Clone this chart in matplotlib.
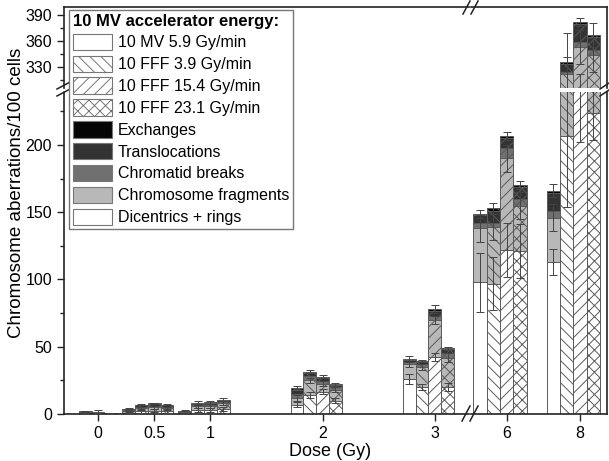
import numpy as np
import matplotlib
matplotlib.use('Agg')
import matplotlib.pyplot as plt
from matplotlib.patches import Patch
from matplotlib.lines import Line2D

plt.rcParams['font.family'] = ['Liberation Sans', 'DejaVu Sans']
plt.rcParams['hatch.linewidth'] = 0.7

doses = [0, 0.5, 1, 2, 3, 6, 8]
rates = ['10 MV 5.9 Gy/min', '10 FFF 3.9 Gy/min', '10 FFF 15.4 Gy/min', '10 FFF 23.1 Gy/min']
hatches = ['', '\\\\\\', '///', 'xxx']

types = ['Exchanges', 'Translocations', 'Chromatid breaks', 'Chromosome fragments', 'Dicentrics + rings']
type_colors = ['#050505', '#333333', '#707070', '#b8b8b8', '#ffffff']

# aberrations per 100 cells, one row per dose rate, columns follow doses
dicentrics = np.array([
    [0.05, 1.0, 0.5, 7.0, 26.0, 98.0, 113.0],
    [0.3, 2.0, 3.0, 14.0, 20.0, 97.0, 207.0],
    [0.3, 2.5, 3.0, 16.6, 42.6, 122.0, 262.0],
    [0.2, 2.0, 4.0, 10.0, 20.0, 121.0, 224.0],
])
fragments = np.array([
    [0.05, 1.5, 1.0, 5.0, 11.0, 40.0, 33.0],
    [0.5, 2.5, 3.0, 11.0, 15.0, 42.0, 115.0],
    [0.4, 2.5, 3.0, 6.0, 27.0, 68.0, 91.0],
    [0.2, 2.5, 4.0, 8.0, 22.0, 34.0, 120.0],
])
chromatid = np.array([
    [0.05, 0.5, 0.5, 3.0, 1.5, 4.0, 5.0],
    [0.5, 1.0, 1.0, 3.0, 2.0, 3.0, 2.0],
    [0.2, 1.0, 1.0, 2.0, 3.0, 8.0, 6.0],
    [0.1, 1.0, 1.0, 2.0, 3.0, 5.0, 6.0],
])
translocations = np.array([
    [0.05, 0.5, 0.3, 3.0, 1.5, 6.0, 13.0],
    [0.5, 1.0, 0.7, 2.5, 2.0, 9.0, 10.0],
    [0.2, 1.5, 1.2, 2.0, 4.0, 7.0, 21.0],
    [0.1, 1.0, 1.2, 1.5, 3.0, 9.0, 15.0],
])
exchanges = np.array([
    [0.0, 0.5, 0.2, 1.5, 1.0, 1.0, 2.0],
    [0.2, 0.5, 0.3, 1.0, 0.4, 2.0, 2.0],
    [0.1, 0.5, 0.5, 1.1, 1.4, 2.0, 2.0],
    [0.1, 0.5, 0.5, 0.5, 0.8, 1.0, 2.0],
])
# standard deviations shown at top of dicentrics, fragments and total
err_dic = np.array([
    [0.0, 0.5, 0.5, 2.0, 4.0, 22.0, 10.0],
    [0.3, 1.0, 1.5, 2.0, 2.0, 20.0, 53.0],
    [0.3, 1.0, 1.5, 2.0, 3.0, 20.0, 60.0],
    [0.2, 1.0, 1.5, 2.0, 3.0, 20.0, 20.0],
])
err_frag = np.array([
    [0.0, 0.5, 0.5, 2.0, 2.0, 10.0, 10.0],
    [0.3, 1.0, 1.5, 2.0, 2.0, 10.0, 20.0],
    [0.3, 1.0, 1.5, 2.0, 3.0, 10.0, 20.0],
    [0.2, 1.0, 1.5, 2.0, 3.0, 10.0, 20.0],
])
err_tot = np.array([
    [0.0, 0.5, 0.5, 1.0, 2.0, 3.0, 5.0],
    [0.3, 0.5, 1.5, 1.0, 1.0, 4.0, 33.0],
    [1.5, 0.5, 1.0, 1.0, 3.0, 3.0, 4.5],
    [0.2, 0.5, 1.0, 1.0, 1.0, 3.0, 14.0],
])

W, H = 609, 461
fig = plt.figure(figsize=(W / 100, H / 100), dpi=100)


def rect(x0, y0, x1, y1):
    return [x0 / W, 1 - y1 / H, (x1 - x0) / W, (y1 - y0) / H]


ax_ll = fig.add_axes(rect(64, 92, 469, 414))
ax_lr = fig.add_axes(rect(471, 92, 607, 414))
ax_ul = fig.add_axes(rect(64, 7, 469, 88))
ax_ur = fig.add_axes(rect(471, 7, 607, 88))

edge = '#5a5a5a'


def draw_bars(ax, idx, width):
    for r in range(4):
        x = np.array([doses[i] for i in idx]) + (r - 2) * width
        comps = [dicentrics[r, idx], fragments[r, idx], chromatid[r, idx],
                 translocations[r, idx], exchanges[r, idx]]
        colors = type_colors[::-1]
        bottom = np.zeros(len(idx))
        for c, col in zip(comps, colors):
            ax.bar(x, c, width, bottom=bottom, color=col, edgecolor=edge,
                   linewidth=0.7, hatch=hatches[r], zorder=2)
            bottom = bottom + c
        d = dicentrics[r, idx]
        f = d + fragments[r, idx]
        for yv, ev in ((d, err_dic), (f, err_frag), (bottom, err_tot)):
            ax.errorbar(x, yv, yerr=ev[r, idx], fmt='none', ecolor='#444444',
                        elinewidth=0.7, capsize=3, capthick=0.7, zorder=3)


left_idx = [0, 1, 2, 3, 4]
right_idx = [5, 6]
w_left = 0.114
w_right = 0.363
for ax in (ax_ll, ax_ul):
    draw_bars(ax, left_idx, w_left)
    ax.set_xlim(-0.303, 3.304)
for ax in (ax_lr, ax_ur):
    draw_bars(ax, right_idx, w_right)
    ax.set_xlim(5.026, 8.737)
for ax in (ax_ll, ax_lr):
    ax.set_ylim(0, 239.4)
for ax in (ax_ul, ax_ur):
    ax.set_ylim(305.8, 399.2)

for ax in (ax_ll, ax_lr, ax_ul, ax_ur):
    for s in ax.spines.values():
        s.set_linewidth(1.2)
        s.set_color('#222222')
    ax.tick_params(direction='out', length=5, width=1, labelsize=11.5, color='#222222')
    ax.tick_params(which='minor', direction='out', length=3, width=1, color='#222222')

ax_ll.spines['top'].set_visible(False)
ax_ll.spines['right'].set_visible(False)
ax_lr.spines['top'].set_visible(False)
ax_lr.spines['left'].set_visible(False)
ax_ul.spines['bottom'].set_visible(False)
ax_ul.spines['right'].set_visible(False)
ax_ur.spines['bottom'].set_visible(False)
ax_ur.spines['left'].set_visible(False)

ax_ll.set_xticks([0, 0.5, 1, 2, 3])
ax_ll.set_xticklabels(['0', '0.5', '1', '2', '3'])
ax_lr.set_xticks([6, 8])
ax_lr.set_xticklabels(['6', '8'])
ax_ll.set_yticks(np.arange(0, 201, 50))
ax_ll.set_yticks(np.arange(25, 240, 50), minor=True)
ax_ul.set_yticks([330, 360, 390])
ax_ul.set_yticks([315, 345, 375], minor=True)
ax_lr.set_yticks([])
ax_ur.set_yticks([])
ax_ul.set_xticks([])
ax_ur.set_xticks([])


# break marks
def brk(x0, y0, x1, y1):
    fig.add_artist(Line2D([x0 / W, x1 / W], [1 - y0 / H, 1 - y1 / H],
                          color='#222222', linewidth=1.1, transform=fig.transFigure))


for dx in (0, 8):
    brk(462 + dx, 421, 470 + dx, 406)
    brk(463 + dx, 14, 470 + dx, 1)
for dy in (0, 7):
    brk(57, 89 + dy, 72, 81 + dy)
    brk(600, 89 + dy, 609, 83 + dy)

handles = [Patch(facecolor='white', edgecolor='#777777', hatch=h, linewidth=0.8) for h in hatches]
handles += [Patch(facecolor=c, edgecolor='#777777', linewidth=0.8) for c in type_colors]
labels = rates + types
leg = fig.legend(handles, labels, loc='upper left', bbox_to_anchor=(69 / W, 1 - 10 / H),
                 borderaxespad=0, fontsize=11.5, title='10 MV accelerator energy:',
                 title_fontproperties={'weight': 'bold', 'size': 12}, alignment='left',
                 fancybox=False, edgecolor='#777777', framealpha=1,
                 handlelength=2.5, handleheight=1.2, labelspacing=0.33,
                 handletextpad=0.35, borderpad=0.22)
leg.get_frame().set_linewidth(1.0)

fig.text(17 / W, 1 - 193 / H, 'Chromosome aberrations/100 cells', rotation=90,
         ha='center', va='center', fontsize=13.5)
fig.text(330 / W, 1 - 451 / H, 'Dose (Gy)', ha='center', va='center', fontsize=13)

fig.savefig('out.png', dpi=100)
